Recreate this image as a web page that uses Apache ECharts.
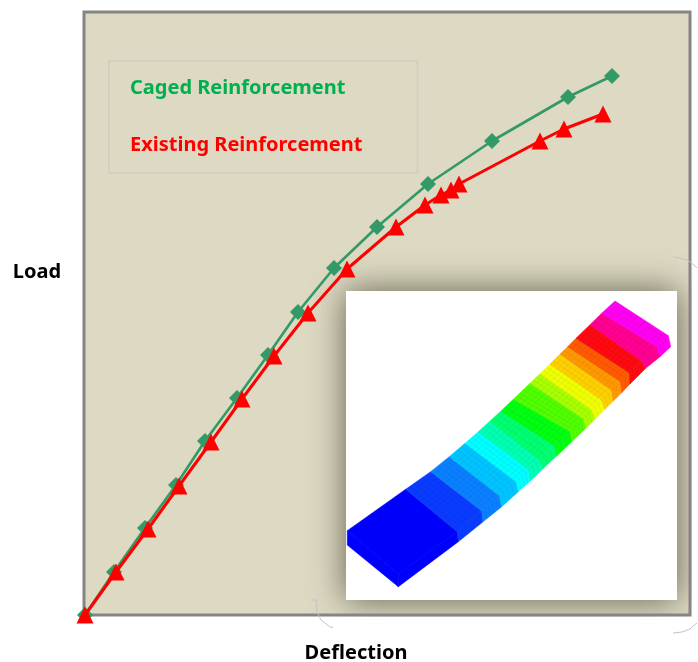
<!DOCTYPE html>
<html><head><meta charset="utf-8">
<style>html,body{margin:0;padding:0;background:#fff}#c{width:698px;height:662px}</style>
<script src="https://cdn.jsdelivr.net/npm/echarts@6/dist/echarts.min.js"></script>
</head><body><div id="c"></div>
<script>
const cagedDeflection=[1,30,61,92,121,153,184,214,250,293,344,408,484,528];
const cagedLoad=[0,43,87,130,174,217,260,303,347,388,431,474,518,539];
const existingDeflection=[1,32,64,95,127,158,190,224,263,312,341,357,367,375,456,480,519];
const existingLoad=[0,43,86,129,173,216,259,302,346,388,410,420,425,431,474,486,501];
const seriesNames=['Caged Reinforcement','Existing Reinforcement'];
const beamColors=['#0000ff','#0a3cff','#0a80ff','#00c4ff','#00ffff','#00ffb0','#00ff70','#00ff10','#50ff00','#a8ff00','#f0ff00','#ffd000','#ff9800','#ff5a00','#ff0a10','#ff0090','#ff00f0'];
const beamFar=[[1.3,239.7],[59.7,198.3],[84.7,180.7],[103.3,165.7],[119,152.3],[132.3,140.7],[144,130],[155,120],[167.3,108.3],[184,92.3],[194,82.7],[204,73],[214,63],[221.7,55.7],[230,47.3],[244,33.7],[255.7,22.3],[269,10]];
const beamNear=[[52.3,283],[111.3,240.7],[135.7,220],[153.3,204.7],[170,190.7],[183.3,179],[194,169.3],[209,155],[224,140.7],[237.3,127.7],[245.7,119],[255.7,109],[265.7,99.3],[274.7,90.7],[283.3,81.7],[295.7,70],[310.7,55.7],[322.3,44.7]];
const beamBottom=[[52.3,295.7],[112.3,250.7],[136.7,231],[155.7,215.7],[172.3,200.7],[184.7,189.7],[197.3,177.3],[210.7,165],[225.7,150.7],[240,137.3],[249,128.3],[259,118.3],[267.3,110],[275.7,101.7],[284,93],[299.7,77.3],[314,65.7],[324.7,55.7]];
const beamEndLeft=[1.3,254];

const chart=echarts.init(document.getElementById('c'),null,{renderer:'canvas'});
const mix=(a,b,t)=>[a[0]+(b[0]-a[0])*t,a[1]+(b[1]-a[1])*t];
function renderBand(params,api){
  const i=params.dataIndex,c=beamColors[i];
  const P=p=>api.coord(p);
  const children=[];
  const poly=(pts,fill)=>children.push({type:'polygon',shape:{points:pts.map(P)},style:{fill:fill,stroke:fill,lineWidth:0.6}});
  poly([beamNear[i],beamNear[i+1],beamBottom[i+1],beamBottom[i]],c);
  if(i===0)poly([beamFar[0],beamNear[0],beamBottom[0],beamEndLeft],c);
  poly([beamFar[i],beamFar[i+1],beamNear[i+1],beamNear[i]],c);
  const meshColor='rgba(0,0,60,0.12)';
  const line=(a,b)=>children.push({type:'line',shape:{x1:P(a)[0],y1:P(a)[1],x2:P(b)[0],y2:P(b)[1]},style:{stroke:meshColor,lineWidth:0.5}});
  const n=14,m=Math.max(2,Math.round(Math.hypot(beamFar[i+1][0]-beamFar[i][0],beamFar[i+1][1]-beamFar[i][1])/5));
  for(let k=1;k<=n;k++){line(mix(beamFar[i],beamNear[i],k/n),mix(beamFar[i+1],beamNear[i+1],k/n));}
  for(let k=0;k<m;k++){
    const a=mix(beamFar[i],beamFar[i+1],k/m),b=mix(beamNear[i],beamNear[i+1],k/m),d=mix(beamBottom[i],beamBottom[i+1],k/m);
    line(a,b);line(b,d);
  }
  return {type:'group',children};
}
const stray=[[[312,600],[316,600],[317,612],[321,620],[330,627],[333,627.5]],[[673,257],[681,258],[682,259],[688,260],[690,262],[694,265],[697,268]],[[673,633],[682,632],[690,629],[693,626],[697,623]]];
chart.setOption({
  animation:false,
  grid:[
    {left:84,top:12,width:606,height:603,show:true,backgroundColor:'#DDD9C3',borderColor:'#8a8a8a',borderWidth:0},
    {left:346,top:291,width:331,height:309,show:false}
  ],
  xAxis:[
    {gridIndex:0,type:'value',min:0,max:606,show:false},
    {gridIndex:1,type:'value',min:0,max:331,show:false}
  ],
  yAxis:[
    {gridIndex:0,type:'value',min:0,max:603,show:false},
    {gridIndex:1,type:'value',min:0,max:309,inverse:true,show:false}
  ],
  legend:{
    left:109,top:61,orient:'vertical',padding:[14,55,14,16],itemGap:30,itemWidth:0,itemHeight:0,
    borderColor:'#d2d0c0',borderWidth:2,selectedMode:false,z:6,
    textStyle:{fontFamily:'"Noto Sans"',fontWeight:'bold',fontSize:20,lineHeight:27},
    data:[
      {name:seriesNames[0],icon:'none',textStyle:{color:'#00B050'}},
      {name:seriesNames[1],icon:'none',textStyle:{color:'#FF0000'}}
    ]
  },
  graphic:[
    {type:'rect',z:1,shape:{x:346,y:291,width:331,height:309},style:{fill:'#fff',shadowBlur:32,shadowColor:'rgba(40,38,20,0.68)'}},
    {type:'rect',z:1,shape:{x:692,y:0,width:6,height:662},style:{fill:'#fff'}},
    {type:'rect',z:1,shape:{x:0,y:617,width:698,height:45},style:{fill:'#fff'}},
    {type:'rect',z:1,shape:{x:84,y:12,width:606,height:603},style:{fill:'none',stroke:'#858585',lineWidth:3}},
    {type:'text',z:6,style:{text:'Load',x:37,y:272,align:'center',verticalAlign:'middle',fontFamily:'"Noto Sans"',fontWeight:'bold',fontSize:20,fill:'#000'}},
    {type:'text',z:6,style:{text:'Deflection',x:356,y:653,align:'center',verticalAlign:'middle',fontFamily:'"Noto Sans"',fontWeight:'bold',fontSize:20,fill:'#000'}},
    ...stray.map(p=>({type:'polyline',z:6,shape:{points:p},style:{stroke:'#c4c4c4',lineWidth:1,fill:'none'}}))
  ],
  series:[
    {name:seriesNames[0],type:'line',xAxisIndex:0,yAxisIndex:0,data:cagedDeflection.map((x,i)=>[x,cagedLoad[i]]),clip:false,z:4,
     symbol:'diamond',symbolSize:16,itemStyle:{color:'#339966'},lineStyle:{color:'#339966',width:2.6}},
    {name:seriesNames[1],type:'line',xAxisIndex:0,yAxisIndex:0,data:existingDeflection.map((x,i)=>[x,existingLoad[i]]),clip:false,z:5,
     symbol:'triangle',symbolSize:17,itemStyle:{color:'#FF0000'},lineStyle:{color:'#FF0000',width:3}},
    {type:'custom',xAxisIndex:1,yAxisIndex:1,z:3,clip:false,silent:true,renderItem:renderBand,data:beamColors.map((c,i)=>[beamFar[i][0],beamFar[i][1]])}
  ]
});
</script></body></html>
